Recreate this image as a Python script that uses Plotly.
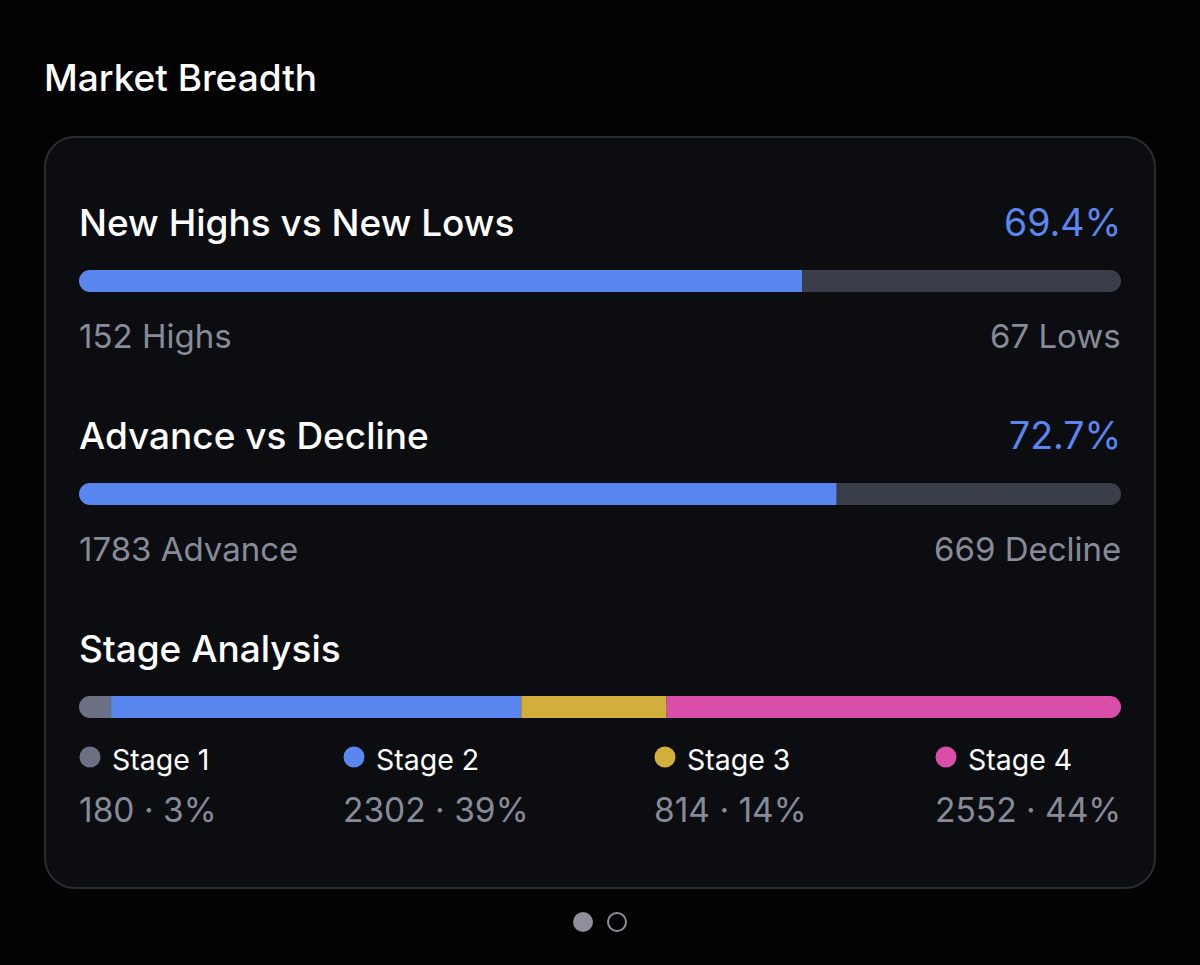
import plotly.graph_objects as go

# ---- data ----
rows = ['New Highs vs New Lows', 'Advance vs Decline', 'Stage Analysis']
highs_lows = [152, 67]
highs_lows_names = ['Highs', 'Lows']
adv_dec = [1783, 669]
adv_dec_names = ['Advance', 'Decline']
stage_names = ['Stage 1', 'Stage 2', 'Stage 3', 'Stage 4']
stage_counts = [180, 2302, 814, 2552]

# ---- style ----
W, H = 1200, 965
BG = '#030304'
CARD = '#0c0d11'
BORDER = '#2b2c31'
BLUE = '#5a86ef'
TRACK = '#3a3e49'
SUB = '#878b98'
stage_colors = ['#6b7083', '#5a86ef', '#d2ae3a', '#d84ea8']
FONT = 'Inter, Roboto, sans-serif'

BAR_L, BAR_R = 79, 1121          # bar track in px
ROW_TOP, ROW_PITCH, BAR_H = 281, 213, 22
RADIUS = 11


def px(x):
    return x / W


def py(y):
    return 1 - y / H


def segments(vals, colors):
    total = sum(vals)
    out, start = [], 0.0
    for v, c in zip(vals, colors):
        f = v / total
        out.append((start, f, c))
        start += f
    return out


bar_rows = [
    (rows[0], segments(highs_lows, [BLUE, TRACK])),
    (rows[1], segments(adv_dec, [BLUE, TRACK])),
    (rows[2], segments(stage_counts, stage_colors)),
]

fig = go.Figure()


def add_bar(name, base, length, color, r):
    fig.add_trace(go.Bar(
        y=[name], x=[length], base=[base], orientation='h',
        width=BAR_H / ROW_PITCH,
        marker=dict(color=color, line=dict(width=0), cornerradius=r),
        hoverinfo='skip', showlegend=False,
    ))


# end segments rounded, then square patches over the inner halves so the
# joins between segments stay straight
for name, segs in bar_rows:
    first, last = segs[0], segs[-1]
    add_bar(name, first[0], first[1], first[2], RADIUS)
    add_bar(name, last[0], last[1], last[2], RADIUS)
    add_bar(name, first[0] + first[1] / 2, first[1] / 2, first[2], 0)
    add_bar(name, last[0], last[1] / 2, last[2], 0)
    for start, f, c in segs[1:-1]:
        add_bar(name, start, f, c, 0)

# legend dots for stage analysis
legend_x = [90, 354, 665, 946]
legend_y = ROW_TOP + 2 * ROW_PITCH + 50
fig.add_trace(go.Scatter(
    x=legend_x, y=[legend_y] * 4, mode='markers',
    marker=dict(size=21, color=stage_colors, line=dict(width=0)),
    xaxis='x2', yaxis='y2', hoverinfo='skip', showlegend=False,
))

fig.update_layout(
    width=W, height=H,
    margin=dict(l=0, r=0, t=0, b=0),
    paper_bgcolor=BG, plot_bgcolor='rgba(0,0,0,0)',
    barmode='overlay', hovermode=False, showlegend=False,
    xaxis=dict(domain=[px(BAR_L), px(BAR_R)], range=[0, 1], visible=False, fixedrange=True),
    yaxis=dict(domain=[0, 1], type='category', categoryorder='array', categoryarray=rows,
               range=[(H - ROW_TOP) / ROW_PITCH, -ROW_TOP / ROW_PITCH],
               visible=False, fixedrange=True),
    xaxis2=dict(domain=[0, 1], range=[0, W], visible=False, anchor='y2', fixedrange=True),
    yaxis2=dict(domain=[0, 1], range=[H, 0], visible=False, anchor='x2', fixedrange=True),
)

# card background
x0, y0, x1, y1, r = 45, 137, 1155, 888, 30
k = r * 0.4477
card_path = (
    f'M {px(x0 + r)},{py(y0)} L {px(x1 - r)},{py(y0)} '
    f'C {px(x1 - k)},{py(y0)} {px(x1)},{py(y0 + k)} {px(x1)},{py(y0 + r)} '
    f'L {px(x1)},{py(y1 - r)} '
    f'C {px(x1)},{py(y1 - k)} {px(x1 - k)},{py(y1)} {px(x1 - r)},{py(y1)} '
    f'L {px(x0 + r)},{py(y1)} '
    f'C {px(x0 + k)},{py(y1)} {px(x0)},{py(y1 - k)} {px(x0)},{py(y1 - r)} '
    f'L {px(x0)},{py(y0 + r)} '
    f'C {px(x0)},{py(y0 + k)} {px(x0 + k)},{py(y0)} {px(x0 + r)},{py(y0)} Z'
)
fig.add_shape(type='path', path=card_path, xref='paper', yref='paper',
              fillcolor=CARD, line=dict(color=BORDER, width=2), layer='below')

# page indicator dots
fig.add_shape(type='circle', xref='paper', yref='paper',
              x0=px(573), x1=px(593), y0=py(932), y1=py(912),
              fillcolor='#8d8f9b', line=dict(width=0))
fig.add_shape(type='circle', xref='paper', yref='paper',
              x0=px(608), x1=px(626), y0=py(931), y1=py(913),
              fillcolor='rgba(0,0,0,0)', line=dict(color='#8d8f9b', width=2))


def label(text, x, y, size, color, anchor='left', weight=400):
    fig.add_annotation(text=text, x=px(x), y=py(y), xref='paper', yref='paper',
                       xanchor=anchor, yanchor='middle', showarrow=False,
                       xshift=-3 if anchor == 'left' else 3,
                       font=dict(family=FONT, size=size, color=color, weight=weight))


label('Market Breadth', 45, 77, 37, '#ffffff', weight=500)

pairs = [(highs_lows, highs_lows_names), (adv_dec, adv_dec_names)]
for i, (vals, names) in enumerate(pairs):
    yc = ROW_TOP + i * ROW_PITCH
    pct = vals[0] / sum(vals) * 100
    label(rows[i], 80, yc - 59, 37, '#ffffff', weight=500)
    label(f'{pct:.1f}%', 1120, yc - 59, 37.5, BLUE, anchor='right')
    label(f'{vals[0]} {names[0]}', 80, yc + 55, 33, SUB)
    label(f'{vals[1]} {names[1]}', 1120, yc + 55, 33, SUB, anchor='right')

yc = ROW_TOP + 2 * ROW_PITCH
label(rows[2], 80, yc - 59, 37, '#ffffff', weight=500)
total = sum(stage_counts)
for name, cnt, lx in zip(stage_names, stage_counts, legend_x):
    label(name, lx + 23, legend_y + 2, 28.5, '#ffffff')
    label(f'{cnt} · {round(cnt / total * 100)}%', lx - 10, legend_y + 53, 33.5, SUB)

fig.write_html('out.html', config={'displayModeBar': False},
               post_script="document.body.style.margin='0';document.body.style.background='#030304';")
